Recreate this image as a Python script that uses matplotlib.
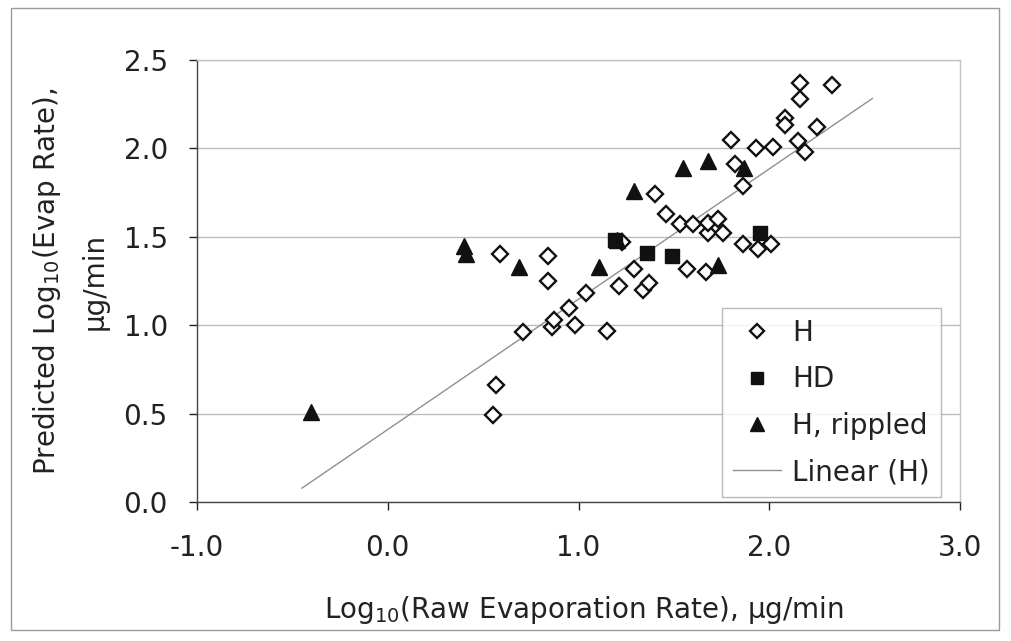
import matplotlib
matplotlib.use("Agg")
import matplotlib.pyplot as plt
import numpy as np
from matplotlib.patches import Rectangle

plt.rcParams['font.family'] = ['DejaVu Sans']
plt.rcParams['mathtext.default'] = 'regular'

# H series
h_x = [0.55, 0.57, 0.71, 0.59, 0.84, 0.84, 0.86, 0.87, 0.95, 0.98, 1.04, 1.15,
       1.21, 1.23, 1.29, 1.34, 1.37, 1.40, 1.46, 1.53, 1.57, 1.60, 1.67, 1.68,
       1.68, 1.73, 1.76, 1.80, 1.82, 1.86, 1.86, 1.93, 1.94, 2.01, 2.02, 2.08,
       2.08, 2.15, 2.16, 2.16, 2.19, 2.25, 2.33]
h_y = [0.49, 0.66, 0.96, 1.40, 1.39, 1.25, 0.99, 1.03, 1.10, 1.00, 1.18, 0.97,
       1.22, 1.47, 1.32, 1.20, 1.24, 1.74, 1.63, 1.57, 1.32, 1.57, 1.30, 1.52,
       1.58, 1.60, 1.52, 2.05, 1.91, 1.79, 1.46, 2.00, 1.43, 1.46, 2.01, 2.17,
       2.13, 2.04, 2.37, 2.28, 1.98, 2.12, 2.36]

# HD series
hd_x = [1.19, 1.36, 1.49, 1.95]
hd_y = [1.48, 1.41, 1.39, 1.52]

# H, rippled series
hr_x = [-0.40, 0.40, 0.41, 0.69, 1.11, 1.20, 1.29, 1.55, 1.68, 1.73, 1.87]
hr_y = [0.51, 1.45, 1.40, 1.33, 1.33, 1.48, 1.76, 1.89, 1.93, 1.34, 1.89]

# Linear (H) trendline
trend_slope = 0.737
trend_intercept = 0.41
trend_range = [-0.45, 2.54]

x_ticks = [-1.0, 0.0, 1.0, 2.0, 3.0]
y_ticks = [0.0, 0.5, 1.0, 1.5, 2.0, 2.5]

W, H = 1011, 641
fig = plt.figure(figsize=(W/100, H/100), dpi=100)
ax = fig.add_axes([197/W, 1-502/H, (960-197)/W, (502-60)/H])

# outer chart border
fig.patches.append(Rectangle((11/W, 1-630/H), 988/W, 622/H,
                             transform=fig.transFigure, fill=False,
                             edgecolor='#9a9a9a', linewidth=1.0))

tx = np.array(trend_range)
ax.plot(tx, trend_slope*tx + trend_intercept, color='#909090', linewidth=1.0,
        label='Linear (H)', zorder=2)
ax.plot(h_x, h_y, linestyle='none', marker='D', markersize=8.5,
        markerfacecolor='white', markeredgecolor='#111111', markeredgewidth=1.7,
        label='H', zorder=3)
ax.plot(hd_x, hd_y, linestyle='none', marker='s', markersize=10,
        color='#111111', label='HD', zorder=4)
ax.plot(hr_x, hr_y, linestyle='none', marker='^', markersize=12,
        color='#111111', label='H, rippled', zorder=4)

ax.set_xlim(-1.0, 3.0)
ax.set_ylim(0.0, 2.5)
ax.set_xticks(x_ticks)
ax.set_yticks(y_ticks)
ax.set_xticklabels(['%.1f' % v for v in x_ticks])
ax.set_yticklabels(['%.1f' % v for v in y_ticks])
ax.tick_params(labelsize=20, colors='#222222', length=6, width=1.0)
ax.tick_params(axis='x', pad=17)
ax.tick_params(axis='y', pad=15)
ax.grid(axis='y', color='#bdbdbd', linewidth=1.0)
ax.set_axisbelow(True)
for s in ['left', 'bottom']:
    ax.spines[s].set_color('#444444')
    ax.spines[s].set_linewidth(1.0)
for s in ['top', 'right']:
    ax.spines[s].set_color('#c4c4c4')
    ax.spines[s].set_linewidth(1.0)

fig.text(584/W, 1-610/H, 'Log$_{10}$(Raw Evaporation Rate), \u03bcg/min',
         fontsize=20, color='#222222', ha='center', va='center')
fig.text(70/W, 1-281/H, 'Predicted Log$_{10}$(Evap Rate),\n\u03bcg/min',
         fontsize=20, color='#222222', ha='center', va='center',
         rotation=90, multialignment='center', linespacing=1.8)

handles, labels = ax.get_legend_handles_labels()
order = [1, 2, 3, 0]
leg = ax.legend([handles[i] for i in order], [labels[i] for i in order],
                loc='lower right', bbox_to_anchor=(0.9745, 0.011), fontsize=20,
                frameon=True, fancybox=False, edgecolor='#a8a8a8',
                labelspacing=0.66, handlelength=1.7, borderpad=0.4,
                borderaxespad=0.0, handletextpad=0.4, markerscale=0.85)
leg.get_frame().set_linewidth(1.0)
for t in leg.get_texts():
    t.set_color('#222222')

fig.savefig('out.png', dpi=100)
